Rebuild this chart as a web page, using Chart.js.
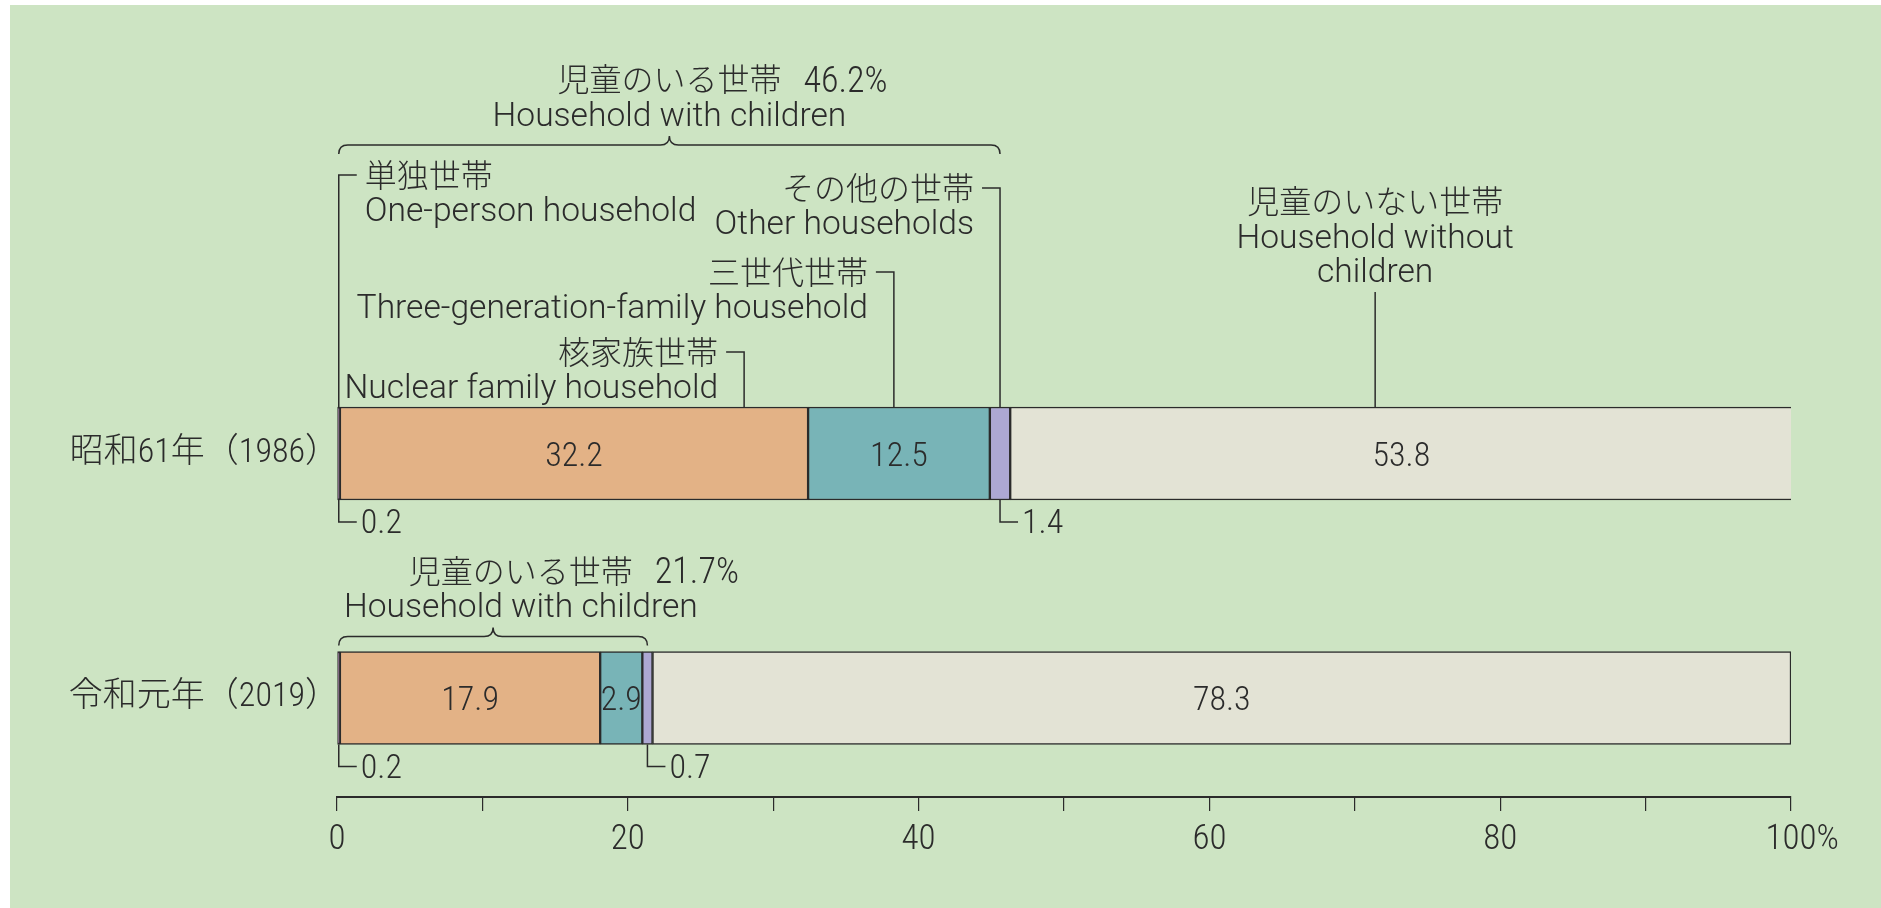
<!DOCTYPE html>
<html lang="ja">
<head>
<meta charset="utf-8">
<title>世帯構造別 児童のいる世帯</title>
<script src="https://cdn.jsdelivr.net/npm/chart.js@4.4.1/dist/chart.umd.min.js"></script>
<style>
  html, body { margin: 0; padding: 0; background: #fff; overflow: hidden; }
  #panel { position: absolute; left: 10px; top: 5px; right: 0; bottom: 0; background: #cde4c3; }
  #chart { position: absolute; left: 0; top: 0; }
</style>
</head>
<body>
<div id="panel"></div>
<canvas id="chart" width="1881" height="908"></canvas>
<script>
// --- data ---
const years = ['昭和61年（1986）', '令和元年（2019）'];
const seriesJa = ['単独世帯', '核家族世帯', '三世代世帯', 'その他の世帯', '児童のいない世帯'];
const seriesEn = [['One-person household'], ['Nuclear family household'],
  ['Three-generation-family household'], ['Other households'], ['Household without', 'children']];
const onePerson = [0.2, 0.2];
const nuclear = [32.2, 17.9];
const threeGen = [12.5, 2.9];
const other = [1.4, 0.7];
const noChildren = [53.8, 78.3];
const withChildrenTotal = [46.2, 21.7];
const xTickLabels = [0, 20, 40, 60, 80, 100];

const segs = [onePerson, nuclear, threeGen, other, noChildren];
const colors = ['#7d4a84', '#e3b286', '#78b4b7', '#ada8d3', '#e3e3d5'];
const insideLabel = [false, true, true, false, true];

// callouts above the 1986 bar (at = x value of the leader, null = segment centre)
const callouts = [
  { at: null, rise: 232, side: 1 },
  { at: 28.0, rise: 55, side: -1 },
  { at: 38.3, rise: 135, side: -1 },
  { at: null, rise: 219, side: -1 },
  { at: 71.4, rise: 115, side: 0 },
];
const braceLift = [262, 15];

const INK = '#2b2b2b';

function hasFont(name) {
  const c = document.createElement('canvas').getContext('2d');
  const s = '0123456789.% Household';
  let diff = false;
  ['monospace', 'serif'].forEach(fb => {
    c.font = `40px ${fb}`;
    const a = c.measureText(s).width;
    c.font = `40px "${name}", ${fb}`;
    if (c.measureText(s).width !== a) diff = true;
  });
  return diff;
}
const narrow = ['Liberation Sans Narrow', 'Roboto Condensed', 'DejaVu Sans Condensed', 'Roboto']
  .find(hasFont) || 'Liberation Sans';

const NUM = `"${narrow}", "Noto Sans CJK JP", sans-serif`;
const LAT = hasFont('Roboto') ? 'Roboto, sans-serif' : '"Liberation Sans", Arial, sans-serif';
const CJK = '"Noto Sans CJK JP", sans-serif';

// English label size chosen so the longest label spans ~512 px like the figure
const EN = (() => {
  const c = document.createElement('canvas').getContext('2d');
  c.font = `300 100px ${LAT}`;
  return Math.round(512 / c.measureText('Three-generation-family household').width * 1000) / 10;
})();

// draw text with its visual middle at cy
function put(ctx, s, x, cy, family, size, align, mid, weight = 300) {
  ctx.font = `${weight} ${size}px ${family}`;
  ctx.textAlign = align;
  ctx.textBaseline = 'alphabetic';
  ctx.fillText(s, x, cy + size * mid);
}
function polyline(ctx, pts) {
  ctx.beginPath();
  pts.forEach(([x, y], i) => (i ? ctx.lineTo(x, y) : ctx.moveTo(x, y)));
  ctx.stroke();
}
function brace(ctx, x0, x1, y) {
  const xm = (x0 + x1) / 2, r = 9;
  ctx.beginPath();
  ctx.moveTo(x0, y + r);
  ctx.quadraticCurveTo(x0, y, x0 + r, y);
  ctx.lineTo(xm - r, y);
  ctx.quadraticCurveTo(xm, y, xm, y - r);
  ctx.quadraticCurveTo(xm, y, xm + r, y);
  ctx.lineTo(x1 - r, y);
  ctx.quadraticCurveTo(x1, y, x1, y + r);
  ctx.stroke();
}

const annotations = {
  id: 'annotations',
  afterDraw(chart) {
    const { ctx, chartArea } = chart;
    const xs = chart.scales.x;
    ctx.save();
    ctx.strokeStyle = INK;
    ctx.fillStyle = INK;
    ctx.lineWidth = 1.5;

    years.forEach((yr, r) => {
      const bars = segs.map((_, s) =>
        chart.getDatasetMeta(s).data[r].getProps(['x', 'y', 'base', 'height'], true));
      const top = bars[0].y - bars[0].height / 2;
      const bottom = bars[0].y + bars[0].height / 2;
      const mid = b => (b.x + b.base) / 2;

      // segment values
      bars.forEach((b, s) => {
        const label = segs[s][r].toFixed(1);
        if (insideLabel[s]) {
          put(ctx, label, mid(b), b.y, NUM, 34, 'center', 0.36);
        } else {
          const lx = mid(b), ly = bottom + 22;
          polyline(ctx, [[lx, bottom], [lx, ly], [lx + 18, ly]]);
          put(ctx, label, lx + 22, ly - 1, NUM, 34, 'left', 0.36);
        }
      });

      // brace over the households with children
      const yb = top - braceLift[r];
      brace(ctx, mid(bars[0]), mid(bars[3]), yb);
      ctx.font = `300 ${EN}px ${LAT}`;
      const enW = ctx.measureText('Household with children').width;
      const cx = Math.max((mid(bars[0]) + mid(bars[3])) / 2, chartArea.left + 7 + enW / 2);
      put(ctx, 'Household with children', cx, yb - 31, LAT, EN, 'center', 0.355);
      put(ctx, '児童のいる世帯', cx, yb - 66, CJK, 32, 'center', 0.38);
      ctx.font = `300 32px ${CJK}`;
      const jaW = ctx.measureText('児童のいる世帯').width;
      put(ctx, withChildrenTotal[r].toFixed(1) + '%', cx + jaW / 2 + 22, yb - 66, NUM, 36, 'left', 0.36);

      if (r !== 0) return;
      // series callouts for the first bar
      callouts.forEach((c, s) => {
        const lx = c.at == null ? mid(bars[s]) : xs.getPixelForValue(c.at);
        const ly = top - c.rise;
        if (c.side === 0) {
          polyline(ctx, [[lx, top], [lx, ly]]);
          const lines = seriesEn[s];
          let y = ly - 22;
          for (let i = lines.length - 1; i >= 0; i--) {
            put(ctx, lines[i], lx, y, LAT, EN, 'center', 0.355);
            y -= 34;
          }
          put(ctx, seriesJa[s], lx, y - 1, CJK, 32, 'center', 0.38);
          return;
        }
        const hx = lx + c.side * 18;
        polyline(ctx, [[lx, top], [lx, ly], [hx, ly]]);
        const tx = hx + c.side * 8;
        const align = c.side > 0 ? 'left' : 'right';
        put(ctx, seriesJa[s], tx, ly, CJK, 32, align, 0.38);
        put(ctx, seriesEn[s][0], tx, ly + 34, LAT, EN, align, 0.355);
      });
    });

    // percent sign after the last tick label
    ctx.font = `300 35px ${NUM}`;
    const w = ctx.measureText('100').width;
    ctx.textAlign = 'left';
    ctx.textBaseline = 'middle';
    ctx.fillText('%', xs.getPixelForValue(100) + w / 2, xs.top + 14 + 8 + 35 * 1.2 / 2);
    ctx.restore();
  }
};

new Chart(document.getElementById('chart'), {
  type: 'bar',
  data: {
    datasets: segs.map((vals, s) => ({
      label: seriesJa[s],
      data: vals.map((v, i) => ({ x: v, y: i + 1 })),
      backgroundColor: colors[s],
      borderColor: INK,
      borderWidth: 1.5,
      borderSkipped: false,
      barThickness: 93,
    })),
  },
  options: {
    indexAxis: 'y',
    responsive: false,
    animation: false,
    devicePixelRatio: 1,
    layout: { padding: { top: 209, right: 90, bottom: 0, left: 0 } },
    plugins: { legend: { display: false }, tooltip: { enabled: false } },
    scales: {
      x: {
        type: 'linear',
        stacked: true,
        min: 0,
        max: 100,
        afterFit: s => { s.height = 111; },
        grid: { drawOnChartArea: false, drawTicks: true, tickLength: 14, color: INK, lineWidth: 1.2 },
        border: { display: true, color: INK, width: 2 },
        ticks: {
          stepSize: 10,
          autoSkip: false,
          maxRotation: 0,
          padding: 8,
          color: INK,
          font: { family: NUM, size: 35, weight: 300 },
          callback: v => (xTickLabels.includes(v) ? String(v) : ''),
        },
      },
      y: {
        type: 'linear',
        stacked: true,
        reverse: true,
        offset: false,
        min: 0,
        max: 2.405,
        afterFit: s => { s.width = 337; },
        afterBuildTicks: s => { s.ticks = years.map((_, i) => ({ value: i + 1 })); },
        grid: { display: false, drawTicks: false, offset: false },
        border: { display: false },
        ticks: {
          padding: -2,
          color: INK,
          font: { family: NUM, size: 34, weight: 300 },
          callback: v => years[v - 1] || '',
        },
      },
    },
  },
  plugins: [annotations],
});
</script>
</body>
</html>
